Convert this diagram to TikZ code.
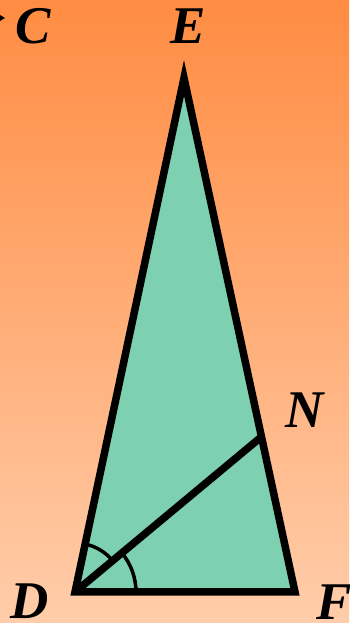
\documentclass[tikz,border=0pt]{standalone}
\usepackage{fontspec}
\setmainfont{Liberation Serif}
\usetikzlibrary{calc}
\begin{document}
\begin{tikzpicture}[x=1pt,y=1pt,
  lbl/.style={inner sep=0pt,font=\fontsize{53}{60}\selectfont\bfseries\itshape},
  edge/.style={line width=7.5pt,line join=miter},
  anglemark/.style={line width=3.5pt}]
\definecolor{bgtop}{RGB}{255,140,66}
\definecolor{bgbot}{RGB}{255,205,170}
\definecolor{trifill}{RGB}{126,209,176}
\shade[top color=bgtop,bottom color=bgbot] (0,0) rectangle (349,623);
\useasboundingbox (0,0) rectangle (349,623);
\coordinate (E) at (184,545);
\coordinate (D) at (75,31);
\coordinate (F) at (295,31);
\coordinate (N) at ($(E)!0.698!(F)$);
\fill[trifill] (D) -- (E) -- (F) -- cycle;
\draw[anglemark] ($(D)+(76:49)$) arc[start angle=76,end angle=39.7,radius=49];
\draw[anglemark] ($(D)+(39.7:61)$) arc[start angle=39.7,end angle=0,radius=61];
\draw[edge] (D) -- (E) -- (F) -- cycle;
\draw[edge] (D) -- (N);
\fill (0,608) -- (5,605) -- (0,602) -- cycle;
\node[lbl] (lC) at (33,597) {C};
\node[lbl] (lE) at (188,597) {E};
\node[lbl] (lN) at (305,213) {N};
\node[lbl] (lD) at (30,21.5) {D};
\node[lbl] (lF) at (334,21) {F};
\end{tikzpicture}
\end{document}
